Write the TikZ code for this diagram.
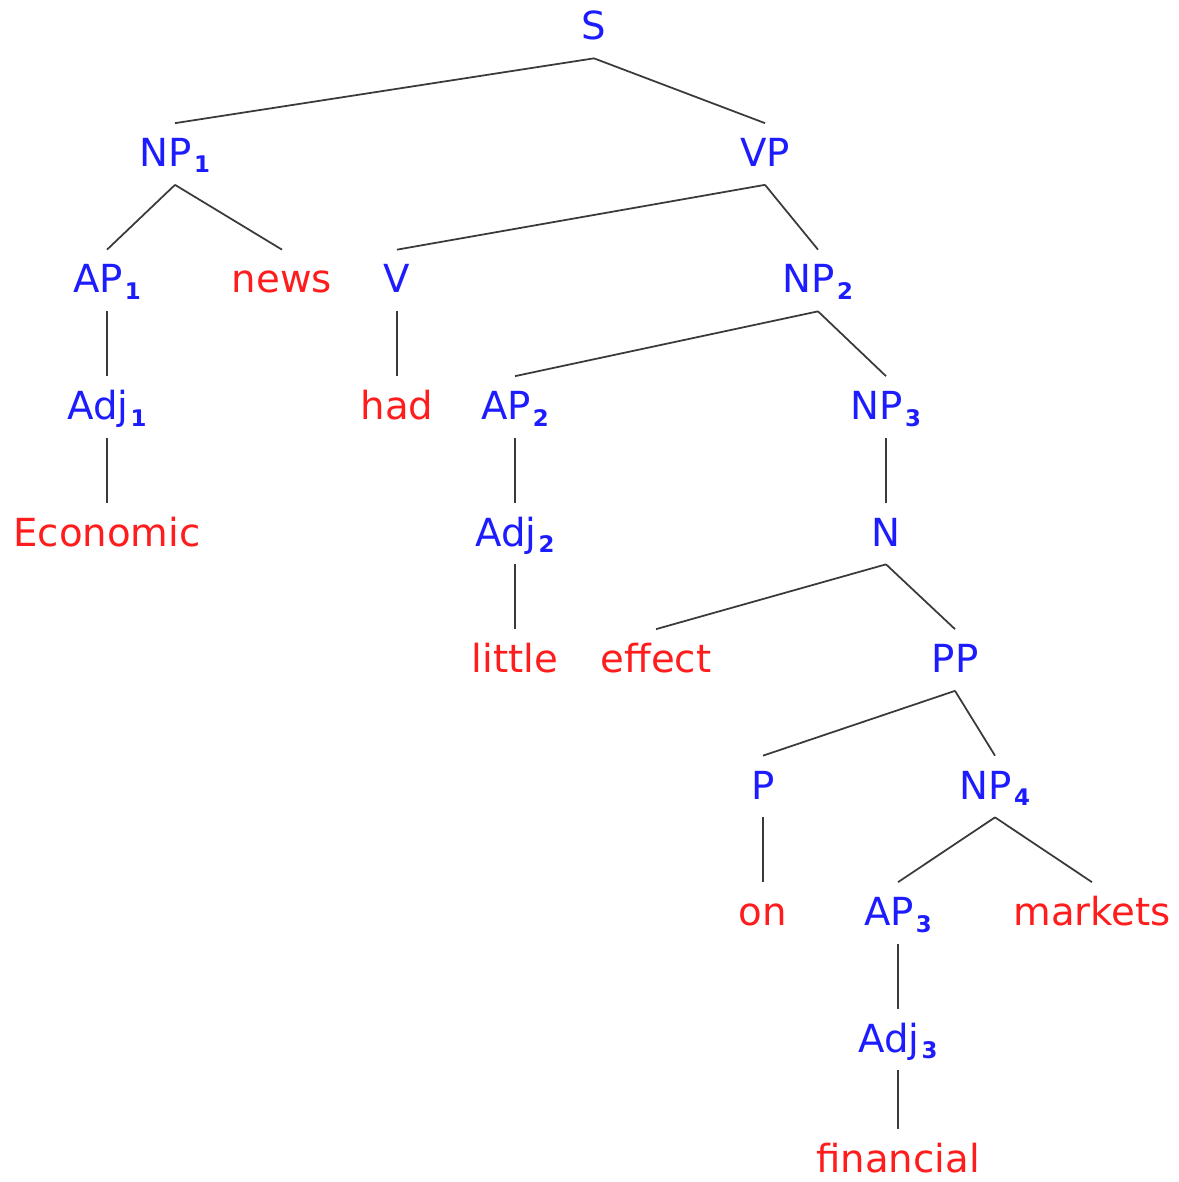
\documentclass[tikz,border=0pt]{standalone}
\usepackage{fontspec}
\setmainfont{DejaVu Sans}
\usepackage{xcolor}
\usepackage{tikz}
\definecolor{catblue}{HTML}{1C1CFF}
\definecolor{wordred}{HTML}{FF1C1C}
\definecolor{branch}{HTML}{3A3A3A}
\newcommand{\catsub}[1]{\kern1.2pt\raisebox{-0.13cm}{\fontsize{13pt}{13pt}\selectfont\bfseries #1}}

\begin{document}
\begin{tikzpicture}[x=0.02cm,y=-0.02cm,font=\fontsize{22pt}{24pt}\selectfont]
\tikzset{
  lbl/.style={anchor=base,inner xsep=0pt,inner ysep=0.3cm,text height=0.56cm,text depth=0.06cm},
  cat/.style={lbl,text=catblue},
  word/.style={lbl,text=wordred},
  edge/.style={draw=branch,line width=1pt}
}
\useasboundingbox (0,0) rectangle (1178,1182);
% categories and words, one row every 126.5px
\node[cat] (S) at (594,40) {S};
\node[cat] (NP1) at (175,166.5) {NP\catsub{1}};
\node[cat] (VP) at (765,166.5) {VP};
\node[cat] (AP1) at (107,293) {AP\catsub{1}};
\node[word] (news) at (282,293) {news};
\node[cat] (V) at (397,293) {V};
\node[cat] (NP2) at (818,293) {NP\catsub{2}};
\node[cat] (Adj1) at (107,419.5) {Adj\catsub{1}};
\node[word] (had) at (397,419.5) {had};
\node[cat] (AP2) at (515,419.5) {AP\catsub{2}};
\node[cat] (NP3) at (886,419.5) {NP\catsub{3}};
\node[word] (economic) at (107,546) {Economic};
\node[cat] (Adj2) at (515,546) {Adj\catsub{2}};
\node[cat] (N) at (886,546) {N};
\node[word] (little) at (515,672.5) {little};
\node[word] (effect) at (656,672.5) {effect};
\node[cat] (PP) at (955,672.5) {PP};
\node[cat] (P) at (763,799) {P};
\node[cat] (NP4) at (995,799) {NP\catsub{4}};
\node[word] (on) at (763,925.5) {on};
\node[cat] (AP3) at (898,925.5) {AP\catsub{3}};
\node[word] (markets) at (1092,925.5) {markets};
\node[cat] (Adj3) at (898,1052) {Adj\catsub{3}};
% last row sits on the lower edge: keep its box inside
\node[word,inner ysep=0pt,text height=0.86cm] (financial) at (898,1172) {financial};

% branches
\foreach \a/\b in {S/NP1,S/VP,NP1/AP1,NP1/news,VP/V,VP/NP2,AP1/Adj1,Adj1/economic,
  V/had,NP2/AP2,NP2/NP3,AP2/Adj2,Adj2/little,NP3/N,N/effect,N/PP,PP/P,PP/NP4,
  P/on,NP4/AP3,NP4/markets,AP3/Adj3,Adj3/financial}
  \draw[edge] (\a.south) -- (\b.north);
\end{tikzpicture}
\end{document}
